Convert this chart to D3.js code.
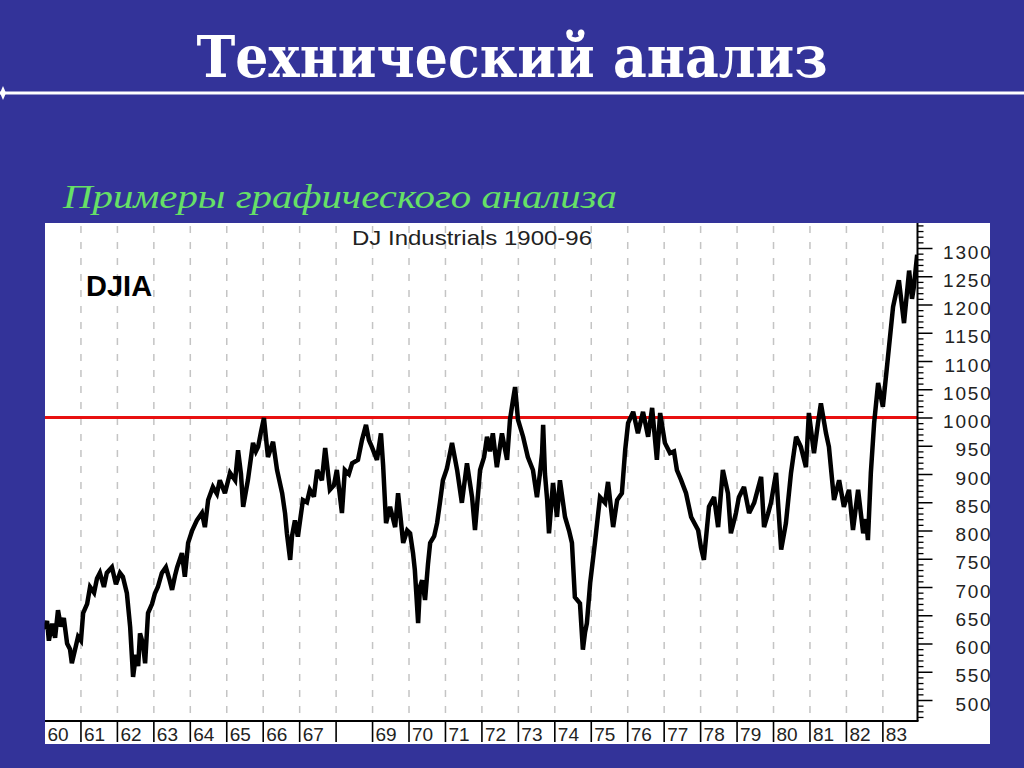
<!DOCTYPE html>
<html><head><meta charset="utf-8">
<script src="https://cdn.jsdelivr.net/npm/d3@7/dist/d3.min.js"></script>
<style>html,body{margin:0;padding:0;background:#333399;}svg{display:block;}</style>
</head><body>
<script>
const dates = [1960.01,1960.07,1960.12,1960.21,1960.29,1960.37,1960.45,1960.53,1960.62,1960.70,1960.75,1960.84,1960.92,
1961.00,1961.06,1961.17,1961.25,1961.36,1961.44,1961.52,1961.63,1961.71,1961.85,1961.96,
1962.07,1962.15,1962.26,1962.35,1962.43,1962.51,1962.57,1962.62,1962.70,1962.76,1962.84,1962.95,
1963.03,1963.11,1963.22,1963.33,1963.42,1963.50,1963.58,1963.64,1963.77,1963.85,1963.94,
1964.05,1964.18,1964.32,1964.40,1964.49,1964.62,1964.73,1964.81,1964.95,
1965.09,1965.23,1965.31,1965.39,1965.45,1965.58,1965.72,1965.80,1965.86,1965.94,
1966.02,1966.13,1966.27,1966.38,1966.52,1966.60,1966.65,1966.74,1966.79,1966.87,1966.95,
1967.09,1967.20,1967.28,1967.39,1967.48,1967.61,1967.70,1967.83,1967.94,
1968.02,1968.16,1968.24,1968.35,1968.44,1968.60,1968.71,1968.82,1968.90,1968.98,
1969.12,1969.23,1969.29,1969.37,1969.48,1969.62,1969.70,1969.84,1969.95,
1970.03,1970.11,1970.16,1970.25,1970.30,1970.36,1970.44,1970.52,1970.58,1970.69,1970.77,1970.85,1970.93,
1971.04,1971.18,1971.32,1971.45,1971.59,1971.73,1971.81,1971.95,
1972.06,1972.14,1972.22,1972.30,1972.41,1972.55,1972.69,1972.77,1972.85,1972.91,1972.99,
1973.13,1973.26,1973.40,1973.51,1973.59,1973.65,1973.68,1973.73,1973.79,1973.84,1973.95,
1974.06,1974.14,1974.28,1974.39,1974.47,1974.55,1974.69,1974.77,1974.83,1974.88,1974.97,
1975.10,1975.24,1975.38,1975.46,1975.60,1975.71,1975.84,1975.93,
1976.01,1976.15,1976.28,1976.42,1976.56,1976.67,1976.80,1976.89,
1977.02,1977.16,1977.27,1977.35,1977.46,1977.60,1977.74,1977.93,
1978.01,1978.09,1978.23,1978.37,1978.48,1978.61,1978.75,1978.83,1978.97,
1979.05,1979.19,1979.33,1979.47,1979.66,1979.74,1979.85,1979.93,
1980.07,1980.21,1980.34,1980.48,1980.62,1980.75,1980.89,1980.97,
1981.11,1981.22,1981.30,1981.44,1981.52,1981.66,1981.80,1981.93,
1982.07,1982.18,1982.32,1982.46,1982.54,1982.59,1982.67,1982.76,1982.87,
1983.00,1983.14,1983.28,1983.36,1983.44,1983.58,1983.72,1983.80,1983.85,1983.94];
const djia = [625,640,605,635,610,659,630,645,600,590,565,590,612,
605,654,670,700,690,715,725,700,725,735,705,
725,718,689,629,541,580,560,618,600,565,654,670,
689,700,725,735,715,695,720,735,760,718,778,
800,818,831,806,854,877,865,889,866,
902,889,942,900,842,889,955,940,948,975,
999,930,957,907,866,830,795,748,790,818,789,
854,850,872,860,907,889,946,872,880,
907,831,907,900,919,925,960,987,960,948,
925,972,915,813,842,806,866,778,800,
795,760,730,636,700,712,677,740,778,790,813,850,889,
910,955,907,849,919,859,801,907,
930,966,940,972,912,972,925,996,1030,1054,996,
966,930,907,859,900,937,987,900,854,795,884,
824,889,824,800,778,682,671,589,620,636,707,
778,859,849,886,806,854,866,942,
990,1010,972,1010,966,1017,925,1008,
955,937,940,907,890,866,824,801,
770,748,842,859,806,907,866,795,831,
859,877,831,849,895,806,830,849,
902,766,813,902,966,948,912,1008,
937,990,1025,972,948,854,889,842,
872,801,872,795,820,783,902,990,1061,
1019,1107,1196,1220,1243,1167,1260,1210,1231,1288];
const yTickLabels = [500,550,600,650,700,750,800,850,900,950,1000,1050,1100,1150,1200,1250,1300];
const yearLabels = ["60","61","62","63","64","65","66","67","","69","70","71","72","73","74","75","76","77","78","79","80","81","82","83"];
const firstYear = 1960;
const resistance = 1000;
const titleText = "Технический анализ";
const subtitleText = "Примеры графического анализа";
const chartTitle = "DJ Industrials 1900-96";
const seriesLabel = "DJIA";

const W = 1024, H = 768;
const svg = d3.select("body").append("svg").attr("width", W).attr("height", H);
svg.append("rect").attr("width", W).attr("height", H).attr("fill", "#333399");

// slide title
svg.append("text").attr("x", 512).attr("y", 77).attr("text-anchor", "middle")
  .attr("font-family", "DejaVu Serif, serif").attr("font-weight", "bold").attr("font-size", 58)
  .attr("fill", "#ffffff").attr("textLength", 631).attr("lengthAdjust", "spacingAndGlyphs")
  .text(titleText);
svg.append("line").attr("x1", 0).attr("x2", W).attr("y1", 93).attr("y2", 93)
  .attr("stroke", "#ffffff").attr("stroke-width", 3);
svg.append("path").attr("d", "M3,86 L6,93 L3,100 L0,93 Z").attr("fill", "#ffffff");

svg.append("text").attr("x", 63).attr("y", 208)
  .attr("font-family", "Liberation Serif, serif").attr("font-style", "italic").attr("font-size", 34)
  .attr("fill", "#66e066").attr("textLength", 554).attr("lengthAdjust", "spacingAndGlyphs")
  .text(subtitleText);

// chart panel
const panel = {x0: 45, y0: 223, x1: 990, y1: 744};
svg.append("rect").attr("x", panel.x0).attr("y", panel.y0)
  .attr("width", panel.x1 - panel.x0).attr("height", panel.y1 - panel.y0).attr("fill", "#ffffff");

const plotLeft = 44.5, plotRight = 917.5, plotTop = 223, plotBottom = 721;
const x = d3.scaleLinear().domain([1960, 1983.95]).range([plotLeft, plotRight]);
const y = d3.scaleLinear().domain([500, 1300]).range([700, 248]);

const yearBounds = d3.range(1961, 1984);

// dashed grid
svg.append("g").selectAll("line").data(yearBounds).join("line")
  .attr("x1", d => x(d)).attr("x2", d => x(d))
  .attr("y1", plotTop + 3).attr("y2", plotBottom)
  .attr("stroke", "#c4c4c4").attr("stroke-width", 1.5).attr("stroke-dasharray", "7,9");

svg.append("defs").append("clipPath").attr("id", "clip").append("rect")
  .attr("x", plotLeft).attr("y", plotTop).attr("width", plotRight - plotLeft).attr("height", plotBottom - plotTop);

// red resistance line
svg.append("line").attr("x1", panel.x0).attr("x2", plotRight)
  .attr("y1", y(resistance)).attr("y2", y(resistance))
  .attr("stroke", "#e81010").attr("stroke-width", 3);

// price line
const pts = dates.map((d, i) => [d, djia[i]]);
svg.append("path").datum(pts).attr("clip-path", "url(#clip)")
  .attr("d", d3.line().x(d => x(d[0])).y(d => y(d[1])))
  .attr("fill", "none").attr("stroke", "#000").attr("stroke-width", 4.5)
  .attr("stroke-linejoin", "miter").attr("stroke-miterlimit", 3);

// texts in chart
svg.append("text").attr("x", 472).attr("y", 245).attr("text-anchor", "middle")
  .attr("font-family", "Liberation Sans, Arial, sans-serif").attr("font-size", 21)
  .attr("fill", "#222").attr("textLength", 240).attr("lengthAdjust", "spacingAndGlyphs")
  .text(chartTitle);
svg.append("text").attr("x", 86).attr("y", 296)
  .attr("font-family", "Liberation Sans, Arial, sans-serif").attr("font-weight", "bold").attr("font-size", 29)
  .attr("fill", "#000").text(seriesLabel);

// right axis: minor ticks
const minor = d3.range(470, 1341, 10).filter(v => v % 50 !== 0);
const gMinor = svg.append("g").attr("transform", `translate(${plotRight},0)`)
  .call(d3.axisRight(y).tickValues(minor).tickSize(6).tickFormat(""));
gMinor.select(".domain").remove();
gMinor.selectAll("line").attr("stroke", "#000").attr("stroke-width", 1.3);

const gMajor = svg.append("g").attr("transform", `translate(${plotRight},0)`)
  .call(d3.axisRight(y).tickValues(yTickLabels).tickSize(15).tickFormat(d3.format("d")));
gMajor.select(".domain").remove();
gMajor.selectAll("line").attr("stroke", "#000").attr("stroke-width", 1.5);
gMajor.selectAll("text").attr("x", 75).attr("dy", null).attr("y", 10)
  .attr("text-anchor", "end").attr("fill", "#222")
  .attr("font-family", "Liberation Sans, Arial, sans-serif").attr("font-size", 19)
  .attr("letter-spacing", 1.8);

svg.append("line").attr("x1", plotRight).attr("x2", plotRight).attr("y1", plotTop).attr("y2", plotBottom)
  .attr("stroke", "#000").attr("stroke-width", 2);
svg.append("line").attr("x1", panel.x0).attr("x2", plotRight + 1).attr("y1", plotBottom).attr("y2", plotBottom)
  .attr("stroke", "#000").attr("stroke-width", 2);

// bottom year axis
const gx = svg.append("g");
gx.selectAll("line").data(yearBounds).join("line")
  .attr("x1", d => x(d)).attr("x2", d => x(d)).attr("y1", plotBottom).attr("y2", 742)
  .attr("stroke", "#000").attr("stroke-width", 1.6);
gx.selectAll("text").data(yearLabels).join("text")
  .attr("x", (d, i) => x(firstYear + i) + 3).attr("y", 741)
  .attr("font-family", "Liberation Sans, Arial, sans-serif").attr("font-size", 19)
  .attr("fill", "#222").text(d => d);
</script>
</body></html>
